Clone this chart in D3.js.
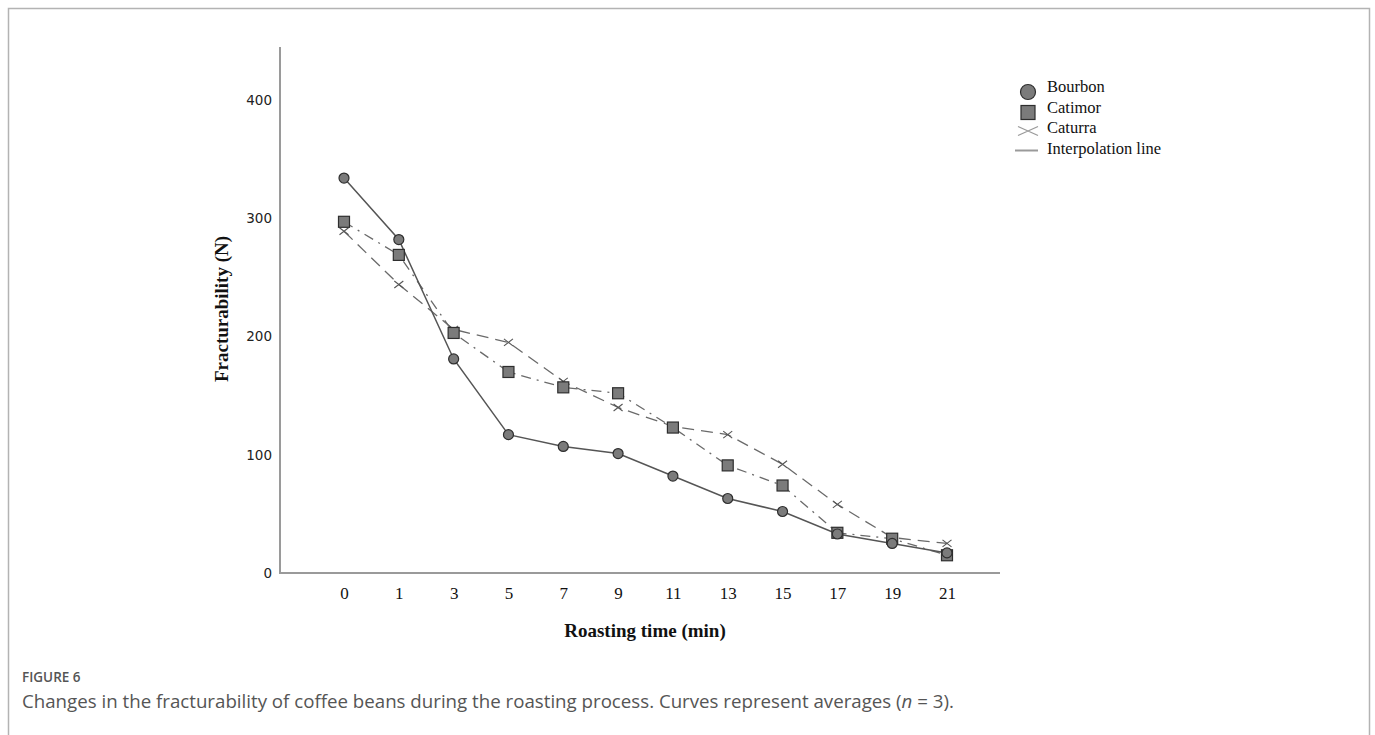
<!DOCTYPE html>
<html>
<head>
<meta charset="utf-8">
<script src="https://cdn.jsdelivr.net/npm/d3@7"></script>
<style>
  body { margin: 0; background: #fff; }
  svg { display: block; }
</style>
</head>
<body>
<script>
const width = 1375;
const height = 735;

// roasting time categories (min)
const times = ["0", "1", "3", "5", "7", "9", "11", "13", "15", "17", "19", "21"];
// fracturability (N)
const bourbon = [334, 282, 181, 117, 107, 101, 82, 63, 52, 33, 25, 17];
const catimor = [297, 269, 203, 170, 157, 152, 123, 91, 74, 34, 29, 15];
const caturra = [289, 244, 206, 195, 162, 140, 124, 117, 92, 58, 30, 25];
const yTicks = [0, 100, 200, 300, 400];
const legendLabels = ["Bourbon", "Catimor", "Caturra", "Interpolation line"];

const svg = d3
  .select("body")
  .append("svg")
  .attr("width", width)
  .attr("height", height);

// figure frame
svg
  .append("path")
  .attr("d", "M8.5,745 V8.5 H1369.5 V745")
  .attr("fill", "none")
  .attr("stroke", "#b3b3b3")
  .attr("stroke-width", 1.5);

const xScale = d3.scalePoint().domain(times).range([344, 947]);
const yScale = d3.scaleLinear().domain([0, 400]).range([573, 100]);

const axisLeftX = 280;
const axisBottomY = 573;

// axes
const xAxis = d3.axisBottom(xScale).tickSize(0).tickPadding(14);
const yAxis = d3.axisLeft(yScale).tickValues(yTicks).tickSize(0).tickPadding(7);

const gx = svg
  .append("g")
  .attr("transform", `translate(0, ${axisBottomY})`)
  .call(xAxis);
gx.select(".domain").remove();
gx.selectAll("text")
  .style("font-family", "'Liberation Serif', 'Times New Roman', serif")
  .style("font-size", "17px")
  .attr("fill", "#111");

const gy = svg
  .append("g")
  .attr("transform", `translate(${axisLeftX - 1}, 0)`)
  .call(yAxis);
gy.select(".domain").remove();
gy.selectAll("text")
  .style("font-family", "'DejaVu Sans', Verdana, sans-serif")
  .style("font-size", "13.5px")
  .attr("fill", "#222");

svg
  .append("line")
  .attr("x1", axisLeftX)
  .attr("x2", axisLeftX)
  .attr("y1", 47)
  .attr("y2", axisBottomY)
  .attr("stroke", "#9a9a9a")
  .attr("stroke-width", 2);

svg
  .append("line")
  .attr("x1", axisLeftX - 1)
  .attr("x2", 1000)
  .attr("y1", axisBottomY)
  .attr("y2", axisBottomY)
  .attr("stroke", "#9a9a9a")
  .attr("stroke-width", 2);

// axis titles
svg
  .append("text")
  .text("Roasting time (min)")
  .attr("x", 645)
  .attr("y", 637)
  .attr("text-anchor", "middle")
  .style("font-family", "'Liberation Serif', 'Times New Roman', serif")
  .style("font-weight", "bold")
  .style("font-size", "19px")
  .attr("fill", "#111");

svg
  .append("text")
  .text("Fracturability (N)")
  .attr("transform", "translate(228, 309) rotate(-90)")
  .attr("text-anchor", "middle")
  .style("font-family", "'Liberation Serif', 'Times New Roman', serif")
  .style("font-weight", "bold")
  .style("font-size", "19px")
  .attr("fill", "#111");

const line = d3
  .line()
  .x((d, i) => xScale(times[i]))
  .y((d) => yScale(d));

// lines
svg
  .append("path")
  .datum(caturra)
  .attr("d", line)
  .attr("fill", "none")
  .attr("stroke", "#6a6a6a")
  .attr("stroke-width", 1.3)
  .attr("stroke-dasharray", "12,7");

svg
  .append("path")
  .datum(catimor)
  .attr("d", line)
  .attr("fill", "none")
  .attr("stroke", "#6a6a6a")
  .attr("stroke-width", 1.3)
  .attr("stroke-dasharray", "10,6,2,6");

svg
  .append("path")
  .datum(bourbon)
  .attr("d", line)
  .attr("fill", "none")
  .attr("stroke", "#555")
  .attr("stroke-width", 1.5);

// markers
const xMark = (cx, cy, w, h) =>
  `M${cx - w},${cy - h}L${cx + w},${cy + h}M${cx - w},${cy + h}L${cx + w},${cy - h}`;

svg
  .selectAll(".caturra")
  .data(caturra)
  .enter()
  .append("path")
  .attr("class", "caturra")
  .attr("d", (d, i) => xMark(xScale(times[i]), yScale(d), 4.5, 3.5))
  .attr("stroke", "#555")
  .attr("stroke-width", 1.1)
  .attr("fill", "none");

svg
  .selectAll(".catimor")
  .data(catimor)
  .enter()
  .append("rect")
  .attr("class", "catimor")
  .attr("x", (d, i) => xScale(times[i]) - 5.5)
  .attr("y", (d) => yScale(d) - 5.5)
  .attr("width", 11)
  .attr("height", 11)
  .attr("fill", "#7b7b7b")
  .attr("stroke", "#2e2e2e")
  .attr("stroke-width", 1.2);

svg
  .selectAll(".bourbon")
  .data(bourbon)
  .enter()
  .append("circle")
  .attr("class", "bourbon")
  .attr("cx", (d, i) => xScale(times[i]))
  .attr("cy", (d) => yScale(d))
  .attr("r", 5)
  .attr("fill", "#7b7b7b")
  .attr("stroke", "#2e2e2e")
  .attr("stroke-width", 1.2);

// legend
const legend = svg.append("g").attr("transform", "translate(1028, 87)");
const rowGap = 20.5;

legend
  .selectAll("text")
  .data(legendLabels)
  .enter()
  .append("text")
  .text((d) => d)
  .attr("x", 19)
  .attr("y", (d, i) => i * rowGap)
  .attr("dy", "0.32em")
  .style("font-family", "'Liberation Serif', 'Times New Roman', serif")
  .style("font-size", "16.5px")
  .attr("fill", "#111");

legend
  .append("circle")
  .attr("cx", 0)
  .attr("cy", 5)
  .attr("r", 7.5)
  .attr("fill", "#7b7b7b")
  .attr("stroke", "#2e2e2e")
  .attr("stroke-width", 1.2);

legend
  .append("rect")
  .attr("x", -7)
  .attr("y", rowGap + 5 - 7)
  .attr("width", 14)
  .attr("height", 14)
  .attr("fill", "#7b7b7b")
  .attr("stroke", "#2e2e2e")
  .attr("stroke-width", 1.2);

legend
  .append("path")
  .attr("d", xMark(0, rowGap * 2 + 3, 10, 4.5))
  .attr("stroke", "#9a9a9a")
  .attr("stroke-width", 1.3)
  .attr("fill", "none");

legend
  .append("line")
  .attr("x1", -13)
  .attr("x2", 10)
  .attr("y1", rowGap * 3 + 2)
  .attr("y2", rowGap * 3 + 2)
  .attr("stroke", "#9a9a9a")
  .attr("stroke-width", 2);

// caption
svg
  .append("text")
  .text("FIGURE 6")
  .attr("x", 22)
  .attr("y", 682)
  .style("font-family", "'Open Sans', sans-serif")
  .style("font-size", "13.5px")
  .style("font-weight", "600")
  .attr("fill", "#555");

const caption = svg
  .append("text")
  .attr("x", 22)
  .attr("y", 708)
  .style("font-family", "'Open Sans', sans-serif")
  .style("font-size", "18.7px")
  .attr("fill", "#555");
caption
  .append("tspan")
  .text("Changes in the fracturability of coffee beans during the roasting process. Curves represent averages (");
caption.append("tspan").text("n").style("font-style", "italic");
caption.append("tspan").text(" = 3).");
</script>
</body>
</html>
